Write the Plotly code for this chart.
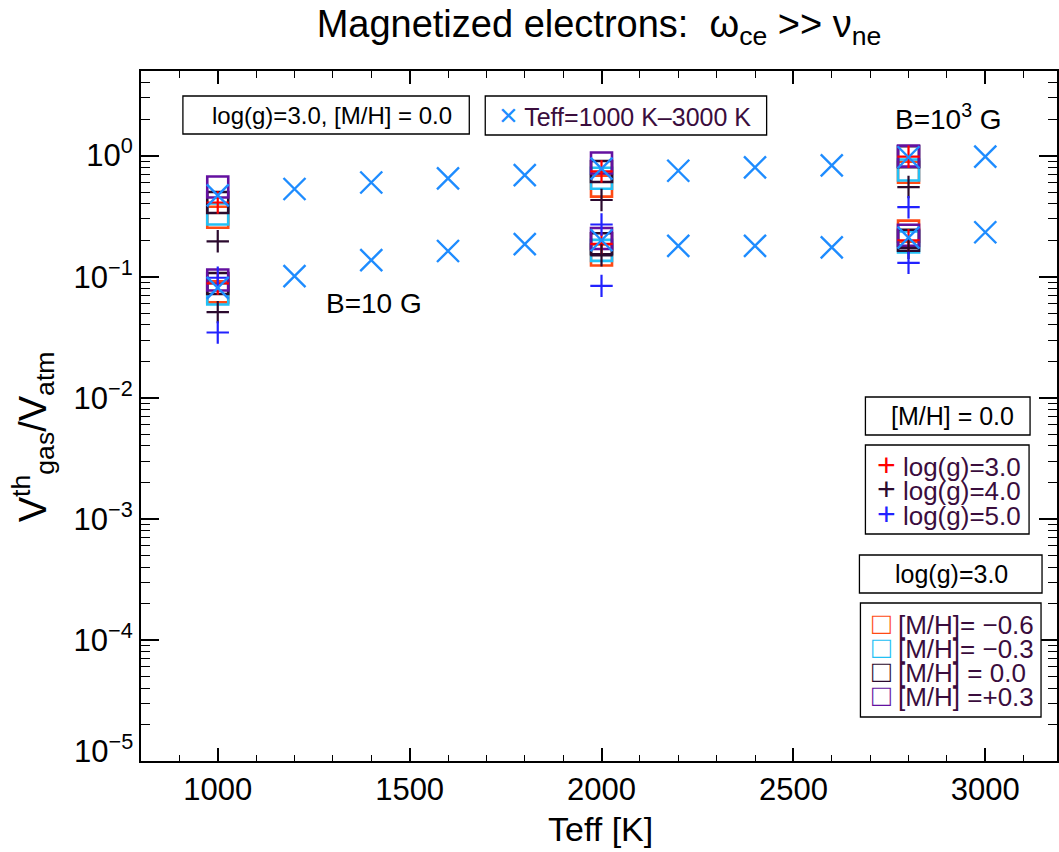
import plotly.graph_objects as go

# ---------------- data ----------------
teff_grid = [1000, 1200, 1400, 1600, 1800, 2000, 2200, 2400, 2600, 2800, 3000]
vratio_teff_b1e3 = [0.47, 0.53, 0.60, 0.65, 0.69, 0.78, 0.75, 0.80, 0.83, 0.97, 0.98]
vratio_teff_b10 = [0.081, 0.101, 0.137, 0.163, 0.186, 0.20, 0.18, 0.18, 0.175, 0.21, 0.233]

teff_sel = [1000, 2000, 2800]
# plus markers: log(g) variations at [M/H]=0.0 (upper: B=1e3 G, lower: B=10 G)
logg3_b1e3 = [0.41, 0.74, 0.98]
logg3_b10 = [0.088, 0.187, 0.20]
logg4_b1e3 = [0.196, 0.43, 0.55]
logg4_b10 = [0.051, 0.15, 0.173]
logg5_b1e3 = [0.098, 0.27, 0.375]
logg5_b10 = [0.0346, 0.084, 0.13]

# square markers: [M/H] variations at log(g)=3.0
mhm06_b1e3 = [0.31, 0.56, 0.73]
mhm06_b10 = [0.075, 0.151, 0.238]
mhm03_b1e3 = [0.33, 0.65, 0.76]
mhm03_b10 = [0.072, 0.165, 0.194]
mh00_b1e3 = [0.41, 0.74, 0.98]
mh00_b10 = [0.088, 0.187, 0.20]
mhp03_b1e3 = [0.55, 0.87, 0.99]
mhp03_b10 = [0.094, 0.207, 0.22]

logg_labels = ["log(g)=3.0", "log(g)=4.0", "log(g)=5.0"]
mh_labels = ["[M/H]= \u22120.6", "[M/H]= \u22120.3", "[M/H] = 0.0", "[M/H] =+0.3"]
x_tick_vals = [1000, 1500, 2000, 2500, 3000]
y_tick_vals = [1e0, 1e-1, 1e-2, 1e-3, 1e-4]
y_tick_text = ["10<sup>0</sup>", "10<sup>\u22121</sup>", "10<sup>\u22122</sup>",
               "10<sup>\u22123</sup>", "10<sup>\u22124</sup>"]
y_bottom_label = "10<sup>\u22125</sup>"

# ---------------- styles ----------------
FONT = "Liberation Sans, Arial, Helvetica, sans-serif"
C_X = "#1e8cff"
C_LOGG = ["#ff0000", "#2b0a2e", "#2222ff"]
C_MH = ["#ff4a14", "#22c0f5", "#2b0a2e", "#6410a0"]
C_TXT = "#3a0d3d"

W, H = 1059, 852
L, R, T, B = 141, 0, 71, 91
PW, PH = W - L - R, H - T - B


def px(x):
    return (x - L) / PW


def py(y):
    return (H - B - y) / PH


fig = go.Figure()

# squares
for vals_hi, vals_lo, col in [(mhm06_b1e3, mhm06_b10, C_MH[0]),
                              (mhm03_b1e3, mhm03_b10, C_MH[1]),
                              (mh00_b1e3, mh00_b10, C_MH[2]),
                              (mhp03_b1e3, mhp03_b10, C_MH[3])]:
    for vals in (vals_hi, vals_lo):
        fig.add_trace(go.Scatter(x=teff_sel, y=vals, mode="markers", showlegend=False,
                                 marker=dict(symbol="square-open", size=21, color=col,
                                             line=dict(width=2.6, color=col))))

# pluses
for vals_hi, vals_lo, col in [(logg3_b1e3, logg3_b10, C_LOGG[0]),
                              (logg4_b1e3, logg4_b10, C_LOGG[1]),
                              (logg5_b1e3, logg5_b10, C_LOGG[2])]:
    for vals in (vals_hi, vals_lo):
        fig.add_trace(go.Scatter(x=teff_sel, y=vals, mode="markers", showlegend=False,
                                 marker=dict(symbol="cross-thin-open", size=16, color=col,
                                             line=dict(width=2.2, color=col))))

# crosses (Teff sequence)
for vals in (vratio_teff_b1e3, vratio_teff_b10):
    fig.add_trace(go.Scatter(x=teff_grid, y=vals, mode="markers", showlegend=False,
                             marker=dict(symbol="x-thin-open", size=22, color=C_X,
                                         line=dict(width=2.4, color=C_X))))

shapes = []
annotations = []


def box(x0, y0, x1, y1):
    shapes.append(dict(type="rect", xref="paper", yref="paper",
                       x0=px(x0), x1=px(x1), y0=py(y1), y1=py(y0),
                       line=dict(color="black", width=1.3), fillcolor="white", layer="above"))


def text(x, y, s, size=22, color="black", xanchor="left"):
    annotations.append(dict(xref="paper", yref="paper", x=px(x), y=py(y), text=s,
                            showarrow=False, xanchor=xanchor, yanchor="middle",
                            font=dict(family=FONT, size=size, color=color)))


def glyph(sym, col, size, bold=False):
    g = "<b>" + sym + "</b>" if bold else sym
    return '<span style="color:%s;font-size:%dpx">%s</span>' % (col, size, g)


# top boxes
box(183, 96, 470, 134)
text(332, 115, "log(g)=3.0, [M/H] = 0.0", size=24, xanchor="center")
box(486, 96, 768, 135)
text(498, 115, glyph("\u00d7", C_X, 32) + " Teff=1000 K\u20133000 K", size=25, color=C_TXT)

text(950, 117, "B=10<sup>3</sup> G", size=28, xanchor="center")
text(375, 303, "B=10 G", size=28, xanchor="center")

# log(g) legend
box(867, 397, 1032, 435)
text(954, 416, "[M/H] = 0.0", size=25, xanchor="center")
box(867, 445, 1031, 534)
for i, lab in enumerate(logg_labels):
    yy = 465 + 24.5 * i
    text(877, yy, glyph("+", C_LOGG[i], 32) + " " + lab, size=26, color=C_TXT)

# [M/H] legend
box(861, 555, 1044, 593)
text(953, 574, "log(g)=3.0", size=25, xanchor="center")
box(862, 603, 1043, 717)
for i, lab in enumerate(mh_labels):
    yy = 623 + 24.3 * i
    text(872, yy, glyph("\u25a1", C_MH[i], 31, bold=True) + " " + lab, size=26, color=C_TXT)

# axis titles
annotations.append(dict(xref="paper", yref="paper", x=px(602), y=py(829),
                        text="Teff [K]", showarrow=False, xanchor="center", yanchor="middle",
                        font=dict(family=FONT, size=34, color="black")))
annotations.append(dict(xref="paper", yref="paper", x=px(33), y=py(437),
                        text="V<sup>th</sup><sub>gas</sub>/V<sub>atm</sub>", textangle=-90,
                        showarrow=False, xanchor="center", yanchor="middle",
                        font=dict(family=FONT, size=38, color="black")))
# bottom y label (shifted up as in the original)
annotations.append(dict(xref="paper", yref="y", x=0, y=-5, xanchor="right", yanchor="middle",
                        xshift=-6, yshift=12, text=y_bottom_label, showarrow=False,
                        font=dict(family=FONT, size=31, color="black")))

fig.update_layout(
    width=W, height=H,
    margin=dict(l=L, r=R, t=T, b=B),
    paper_bgcolor="white", plot_bgcolor="white",
    font=dict(family=FONT, size=30, color="black"),
    title=dict(text="Magnetized electrons:  \u03c9<sub>ce</sub> >> \u03bd<sub>ne</sub>",
               x=0.5, xref="paper", xanchor="center", y=1 - 24 / H, yref="container",
               yanchor="middle", font=dict(family=FONT, size=38, color="black")),
    shapes=shapes, annotations=annotations,
    showlegend=False,
)

fig.update_xaxes(range=[800, 800 + PW / (192.3 / 500)], tickvals=x_tick_vals,
                 ticks="inside", ticklen=13, tickwidth=1.5, tickcolor="black",
                 showline=True, linecolor="black", linewidth=2, mirror="allticks",
                 showgrid=False, zeroline=False,
                 tickfont=dict(family=FONT, size=31),
                 minor=dict(dtick=100, ticks="inside", ticklen=6.5, tickwidth=1.3,
                            tickcolor="black", showgrid=False))
fig.update_yaxes(type="log", range=[-5, 0.699], tickvals=y_tick_vals, ticktext=y_tick_text,
                 ticks="inside", ticklen=18, tickwidth=1.5, tickcolor="black",
                 showline=True, linecolor="black", linewidth=2, mirror="allticks",
                 showgrid=False, zeroline=False,
                 tickfont=dict(family=FONT, size=31),
                 minor=dict(dtick="D1", ticks="inside", ticklen=9, tickwidth=1.3,
                            tickcolor="black", showgrid=False))

fig.write_html("out.html",
               config={"displayModeBar": False},
               post_script="document.body.style.margin='0px';"
                           "document.body.style.overflow='hidden';")
